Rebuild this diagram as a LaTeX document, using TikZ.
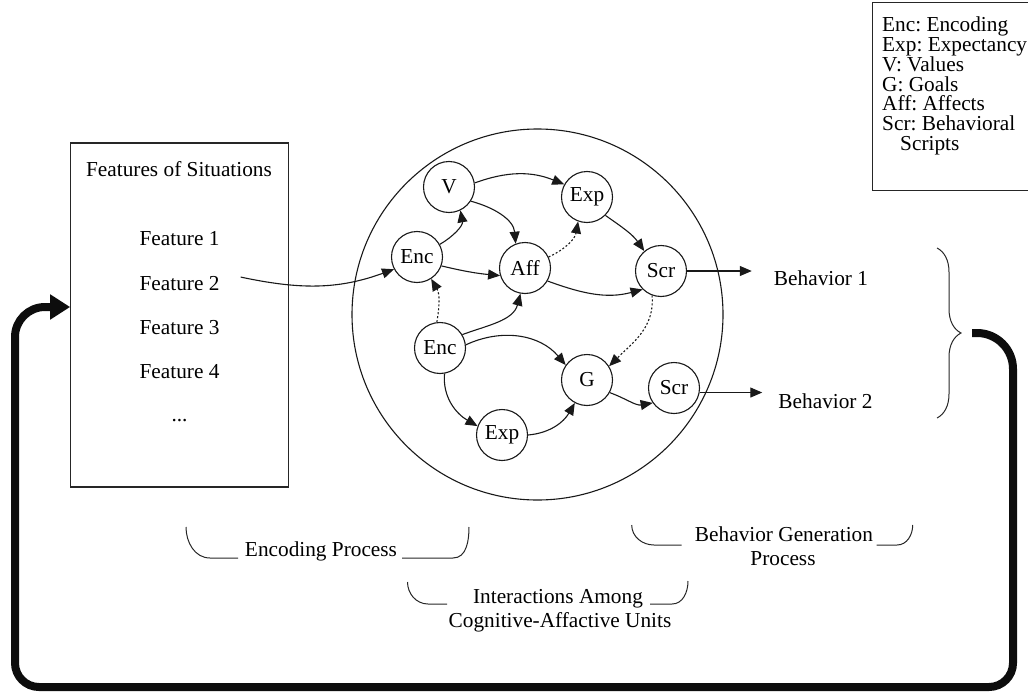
\documentclass[tikz,border=0pt]{standalone}
\usepackage{fontspec}
\setmainfont{Liberation Serif}
\usetikzlibrary{arrows.meta,decorations.pathreplacing}
\frenchspacing
\begin{document}
\begin{tikzpicture}[x=1pt,y=1pt,
  every node/.style={font=\fontsize{21.3}{24}\selectfont, text=black},
  unit/.style={circle, draw=black!90, line width=1.1pt, minimum size=51pt, inner sep=0pt},
  link/.style={draw=black!90, line width=1.1pt, -{Triangle[length=12pt,width=10pt]}},
  dotlink/.style={link, dash pattern=on 2pt off 2pt},
  lbl/.style={anchor=base, inner sep=0pt},
  bracket/.style={draw=black!85, line width=1pt},
  loopline/.style={draw=black!95, line width=8pt, -{Triangle[length=20pt,width=24pt]}}
]
\useasboundingbox (0,0) rectangle (1028,-693);

% big circle
\node[circle, draw=black!90, line width=1.1pt, minimum size=371pt, inner sep=0pt] (cau) at (537.5,-314.5) {};

% units
\node[unit] (V) at (449,-187) {V};
\node[unit] (Exp1) at (587,-197) {Exp};
\node[unit] (Enc1) at (417,-257) {Enc};
\node[unit] (Aff) at (525,-268) {Aff};
\node[unit] (Scr1) at (661,-271) {Scr};
\node[unit] (Enc2) at (440,-348) {Enc};
\node[unit] (G) at (587,-380) {G};
\node[unit] (Scr2) at (674,-388) {Scr};
\node[unit] (Exp2) at (502,-435) {Exp};

% feature box
\node[draw=black!85, line width=1.1pt, minimum width=218pt, minimum height=344pt, inner sep=0pt] (feat) at (179.7,-315) {};
\node[lbl] (fos) at (179,-176) {Features of Situations};
\node[lbl] (F1) at (179.5,-245) {Feature 1};
\node[lbl] (F2) at (179.5,-290) {Feature 2};
\node[lbl] (F3) at (179.5,-334) {Feature 3};
\node[lbl] (F4) at (179.5,-378) {Feature 4};
\node[lbl] (Fdots) at (179.5,-421) {...};

% behaviors
\node[lbl] (B1) at (821,-285) {Behavior 1};
\node[lbl] (B2) at (825.5,-408) {Behavior 2};

% connectors
\draw[link] ([shift={(21pt,6pt)}]F2.east) to[out=-12,in=200] (Enc1.208);
\draw[link] (V.9) to[out=20,in=158] (Exp1.151);
\draw[link] (V.-33) to[out=-15,in=95] (Aff.111);
\draw[link] (Enc1.29) to[out=30,in=-80] (V.-64);
\draw[link] (Enc1.-20) to[bend right=4] (Aff.197);
\draw[dotlink] (Aff.25) to[out=25,in=-100] (Exp1.-110);
\draw[link] (Exp1.-45) to[out=-35,in=125] (Scr1.130);
\draw[link] (Aff.-30) to[out=-20,in=195] (Scr1.225);
\draw[dotlink] (Enc2.97) to[out=80,in=-60] (Enc1.-57);
\draw[link] (Enc2.31) to[out=20,in=-105] (Aff.-100);
\draw[link] (Enc2.7) to[out=25,in=130] (G.145);
\draw[link] (Enc2.-80) to[out=-95,in=150] (Exp2.160);
\draw[link] (Exp2.0) to[out=5,in=-120] (G.-118);
\draw[dotlink] (Scr1.-110) to[out=-85,in=45] (G.32);
\draw[link] (G.-29) to[out=-20,in=190] (Scr2.215);
\draw[link, shorten >=22pt] (Scr1) -- (Scr1 -| B1.west);
\draw[link, shorten >=16pt] (Scr2.-10) -- (Scr2.-10 -| B2.west);

% brace and feedback loop
\draw[bracket, decorate, decoration={brace, amplitude=24pt}] (937,-248) -- (937,-418);
\coordinate (brtip) at (961,-333);
\draw[loopline] ([xshift=11pt]brtip) [rounded corners=36pt] -- (1013,-333) [rounded corners=24pt] -- (1013,-687) -- (15,-687) [rounded corners=30pt] -- (15,-307) -- (feat.west |- 0,-307);

% process brackets
\draw[bracket] (186,-527) to[out=-90,in=180] (210,-558) -- (238,-558);
\draw[bracket] (402,-558) -- (453,-558) to[out=0,in=-90] (469,-527);
\node[lbl] (ep) at (321,-556) {Encoding Process};

\draw[bracket] (407.5,-582) to[out=-90,in=180] (428,-604) -- (447,-604);
\draw[bracket] (650,-604) -- (672,-604) to[out=0,in=-90] (688,-581);
\node[lbl] (ia1) at (558,-603) {Interactions Among};
\node[lbl] (ia2) at (560,-627) {Cognitive-Affactive Units};

\draw[bracket] (631.7,-525) to[out=-90,in=180] (654,-545) -- (681.7,-545);
\draw[bracket] (876.7,-545) -- (897,-545) to[out=0,in=-90] (912.7,-525);
\node[lbl] (bg1) at (784,-541.5) {Behavior Generation};
\node[lbl] (bg2) at (783,-565.5) {Process};

% legend (box runs past the right edge, as in the reference)
\node[draw=black!85, line width=1.1pt, minimum width=170pt, minimum height=188pt, inner sep=0pt, anchor=north west] (legbox) at (872,-2) {};
\node[anchor=north west, align=left, inner sep=0pt, font=\fontsize{21.3}{19.7}\selectfont] (legtext) at (882,-17) {Enc: Encoding\\Exp: Expectancy\\V: Values\\G: Goals\\Aff: Affects\\Scr: Behavioral\\\hspace*{18pt}Scripts};
\end{tikzpicture}
\end{document}
